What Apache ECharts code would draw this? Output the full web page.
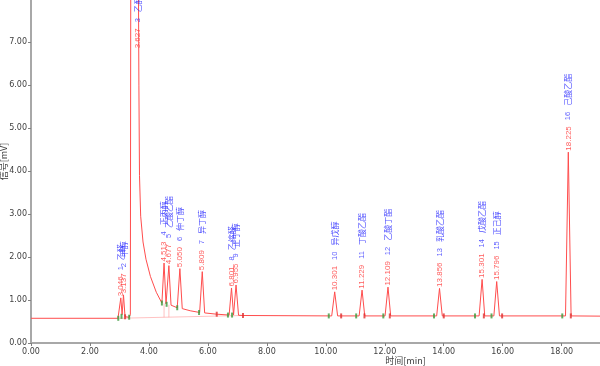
<!DOCTYPE html>
<html><head><meta charset="utf-8">
<script src="https://cdn.jsdelivr.net/npm/echarts@6/dist/echarts.min.js"></script>
<style>html,body{margin:0;padding:0;background:#fff}#c{width:600px;height:366px}</style>
</head><body><div id="c"></div>
<script>
// Peak table
const peakTimes   = [3.046, 3.137, 3.627, 4.513, 4.677, 5.050, 5.809, 6.801, 6.955, 10.301, 11.229, 12.109, 13.856, 15.301, 15.796, 18.225];
const peakNumbers = [1, 2, 3, 4, 5, 6, 7, 8, 9, 10, 11, 12, 13, 14, 15, 16];
const peakNames   = ['乙醛', '甲醇', '乙醇', '正丙醇', '乙酸乙酯', '仲丁醇', '异丁醇', '乙缩醛', '正丁醇', '异戊醇', '丁酸乙酯', '乙酸丁酯', '乳酸乙酯', '戊酸乙酯', '正己醇', '己酸乙酯'];
const peakHeights = [1.05, 1.12, null, 1.86, 1.80, 1.73, 1.66, 1.28, 1.35, 1.19, 1.23, 1.30, 1.27, 1.48, 1.43, 4.44];

// Chromatogram trace (min, mV)
const traceTime = [0, 2.95, 3.00, 3.046, 3.09, 3.137, 3.19, 3.33, 3.37, 3.39, 3.62, 3.66, 3.68, 3.72, 3.80, 3.90, 4.05, 4.25, 4.44, 4.513, 4.58, 4.61, 4.677, 4.75, 4.96, 5.050, 5.13, 5.40, 5.72, 5.809, 5.89, 6.30, 6.72, 6.801, 6.87, 6.955, 7.04, 7.19, 10.20, 10.301, 10.40, 11.13, 11.229, 11.32, 12.01, 12.109, 12.20, 13.76, 13.856, 13.95, 15.20, 15.301, 15.39, 15.70, 15.796, 15.89, 18.13, 18.225, 18.32, 19.30];
const traceSignal = [0.575, 0.575, 0.60, 1.05, 0.66, 1.12, 0.61, 0.60, 0.66, 12.0, 12.0, 6.0, 3.9, 2.95, 2.35, 1.95, 1.55, 1.18, 0.93, 1.86, 0.91, 0.90, 1.80, 0.88, 0.82, 1.73, 0.80, 0.75, 0.71, 1.66, 0.70, 0.67, 0.65, 1.28, 0.65, 1.35, 0.645, 0.64, 0.63, 1.19, 0.63, 0.63, 1.23, 0.63, 0.63, 1.30, 0.63, 0.63, 1.27, 0.63, 0.63, 1.48, 0.63, 0.63, 1.43, 0.63, 0.63, 4.44, 0.63, 0.625];

// Integration baseline segments [t1, v1, t2, v2]
const baseSegments = [[2.95, 0.575, 7.19, 0.64], [4.513, 0.60, 4.513, 0.92], [4.677, 0.60, 4.677, 0.89]];

// Peak start / end markers
const startTimes  = [2.96, 3.07, 3.33, 4.44, 4.60, 4.96, 5.70, 6.68, 6.82, 10.10, 11.03, 11.95, 13.67, 15.06, 15.62, 18.02];
const startLevels = [0.575, 0.62, 0.60, 0.93, 0.90, 0.82, 0.71, 0.65, 0.65, 0.63, 0.63, 0.63, 0.63, 0.63, 0.63, 0.63];
const endTimes    = [3.19, 6.30, 7.19, 10.52, 11.31, 12.17, 14.00, 15.36, 15.98, 18.31];
const endLevels   = [0.61, 0.67, 0.64, 0.63, 0.63, 0.63, 0.63, 0.63, 0.63, 0.63];

const xTicks = { min: 0, max: 19.3, step: 2 };
const yTicks = { min: 0, max: 7.98, step: 1 };

const chart = echarts.init(document.getElementById('c'), null, { renderer: 'canvas' });

const labelData = peakTimes.map((t, i) => ({
  value: [t, peakHeights[i] == null ? 6.82 : peakHeights[i]],
  num: peakNumbers[i], name: peakNames[i]
}));

const series = [
  {
    type: 'line', data: traceTime.map((t, i) => [t, traceSignal[i]]),
    showSymbol: false, symbol: 'none', clip: true, z: 3,
    lineStyle: { color: '#ff4d4d', width: 1 }
  }
];
baseSegments.forEach(s => series.push({
  type: 'line', data: [[s[0], s[1]], [s[2], s[3]]], symbol: 'none', z: 2,
  lineStyle: { color: 'rgba(255,120,120,0.45)', width: 1 }
}));
series.push({
  type: 'scatter', data: startTimes.map((t, i) => [t, startLevels[i]]),
  symbol: 'rect', symbolSize: [2, 5], itemStyle: { color: '#3c9a3c' }, z: 4
});
series.push({
  type: 'scatter', data: endTimes.map((t, i) => [t, endLevels[i]]),
  symbol: 'rect', symbolSize: [2, 5], itemStyle: { color: '#e03030' }, z: 4
});
series.push({
  type: 'scatter', data: labelData, symbolSize: 1, z: 5,
  itemStyle: { color: 'rgba(0,0,0,0)' },
  label: {
    show: true, position: 'top', distance: 1, rotate: 90,
    align: 'left', verticalAlign: 'middle',
    formatter: p => `{r|${p.data.value[0].toFixed(3)}}{g|}{n|${p.data.num}}{g|}{b|${p.data.name}}`,
    rich: {
      r: { color: '#ff3434', fontSize: 8, fontFamily: 'Liberation Sans' },
      g: { width: 6 },
      n: { color: '#3535ff', fontSize: 7.5, fontFamily: 'Liberation Sans' },
      b: { color: '#2525ff', fontSize: 8, fontFamily: 'Noto Sans CJK SC' }
    }
  }
});

chart.setOption({
  animation: false,
  backgroundColor: '#fff',
  grid: { left: 31, right: 0, top: 0, bottom: 23, containLabel: false, outerBoundsMode: 'none' },
  xAxis: {
    type: 'value', min: xTicks.min, max: xTicks.max, interval: xTicks.step,
    name: '时间[min]', nameLocation: 'middle', nameGap: 13, nameMoveOverlap: false,
    nameTextStyle: { color: '#404040', fontSize: 9, fontFamily: 'Noto Sans CJK SC', padding: [0, 0, 0, 180] },
    axisLine: { lineStyle: { color: '#a8a8a8', width: 2 } },
    axisTick: { show: true, length: 3, lineStyle: { color: '#808080' } },
    axisLabel: { color: '#404040', fontSize: 8, fontFamily: 'DejaVu Sans', margin: 5, formatter: v => v.toFixed(2), showMaxLabel: false },
    splitLine: { show: false }
  },
  yAxis: {
    type: 'value', min: yTicks.min, max: yTicks.max, interval: yTicks.step,
    name: '信号[mV]', nameLocation: 'middle', nameRotate: 90, nameGap: 23, nameMoveOverlap: false,
    nameTextStyle: { color: '#404040', fontSize: 9, fontFamily: 'Noto Sans CJK SC', padding: [0, 0, 0, 20] },
    axisLine: { show: true, lineStyle: { color: '#a8a8a8', width: 2 } },
    axisTick: { show: true, length: 3, lineStyle: { color: '#808080' } },
    axisLabel: { color: '#404040', fontSize: 8, fontFamily: 'DejaVu Sans', margin: 4, formatter: v => v.toFixed(2), showMaxLabel: false },
    splitLine: { show: false }
  },
  series: series
});
</script>
</body></html>
